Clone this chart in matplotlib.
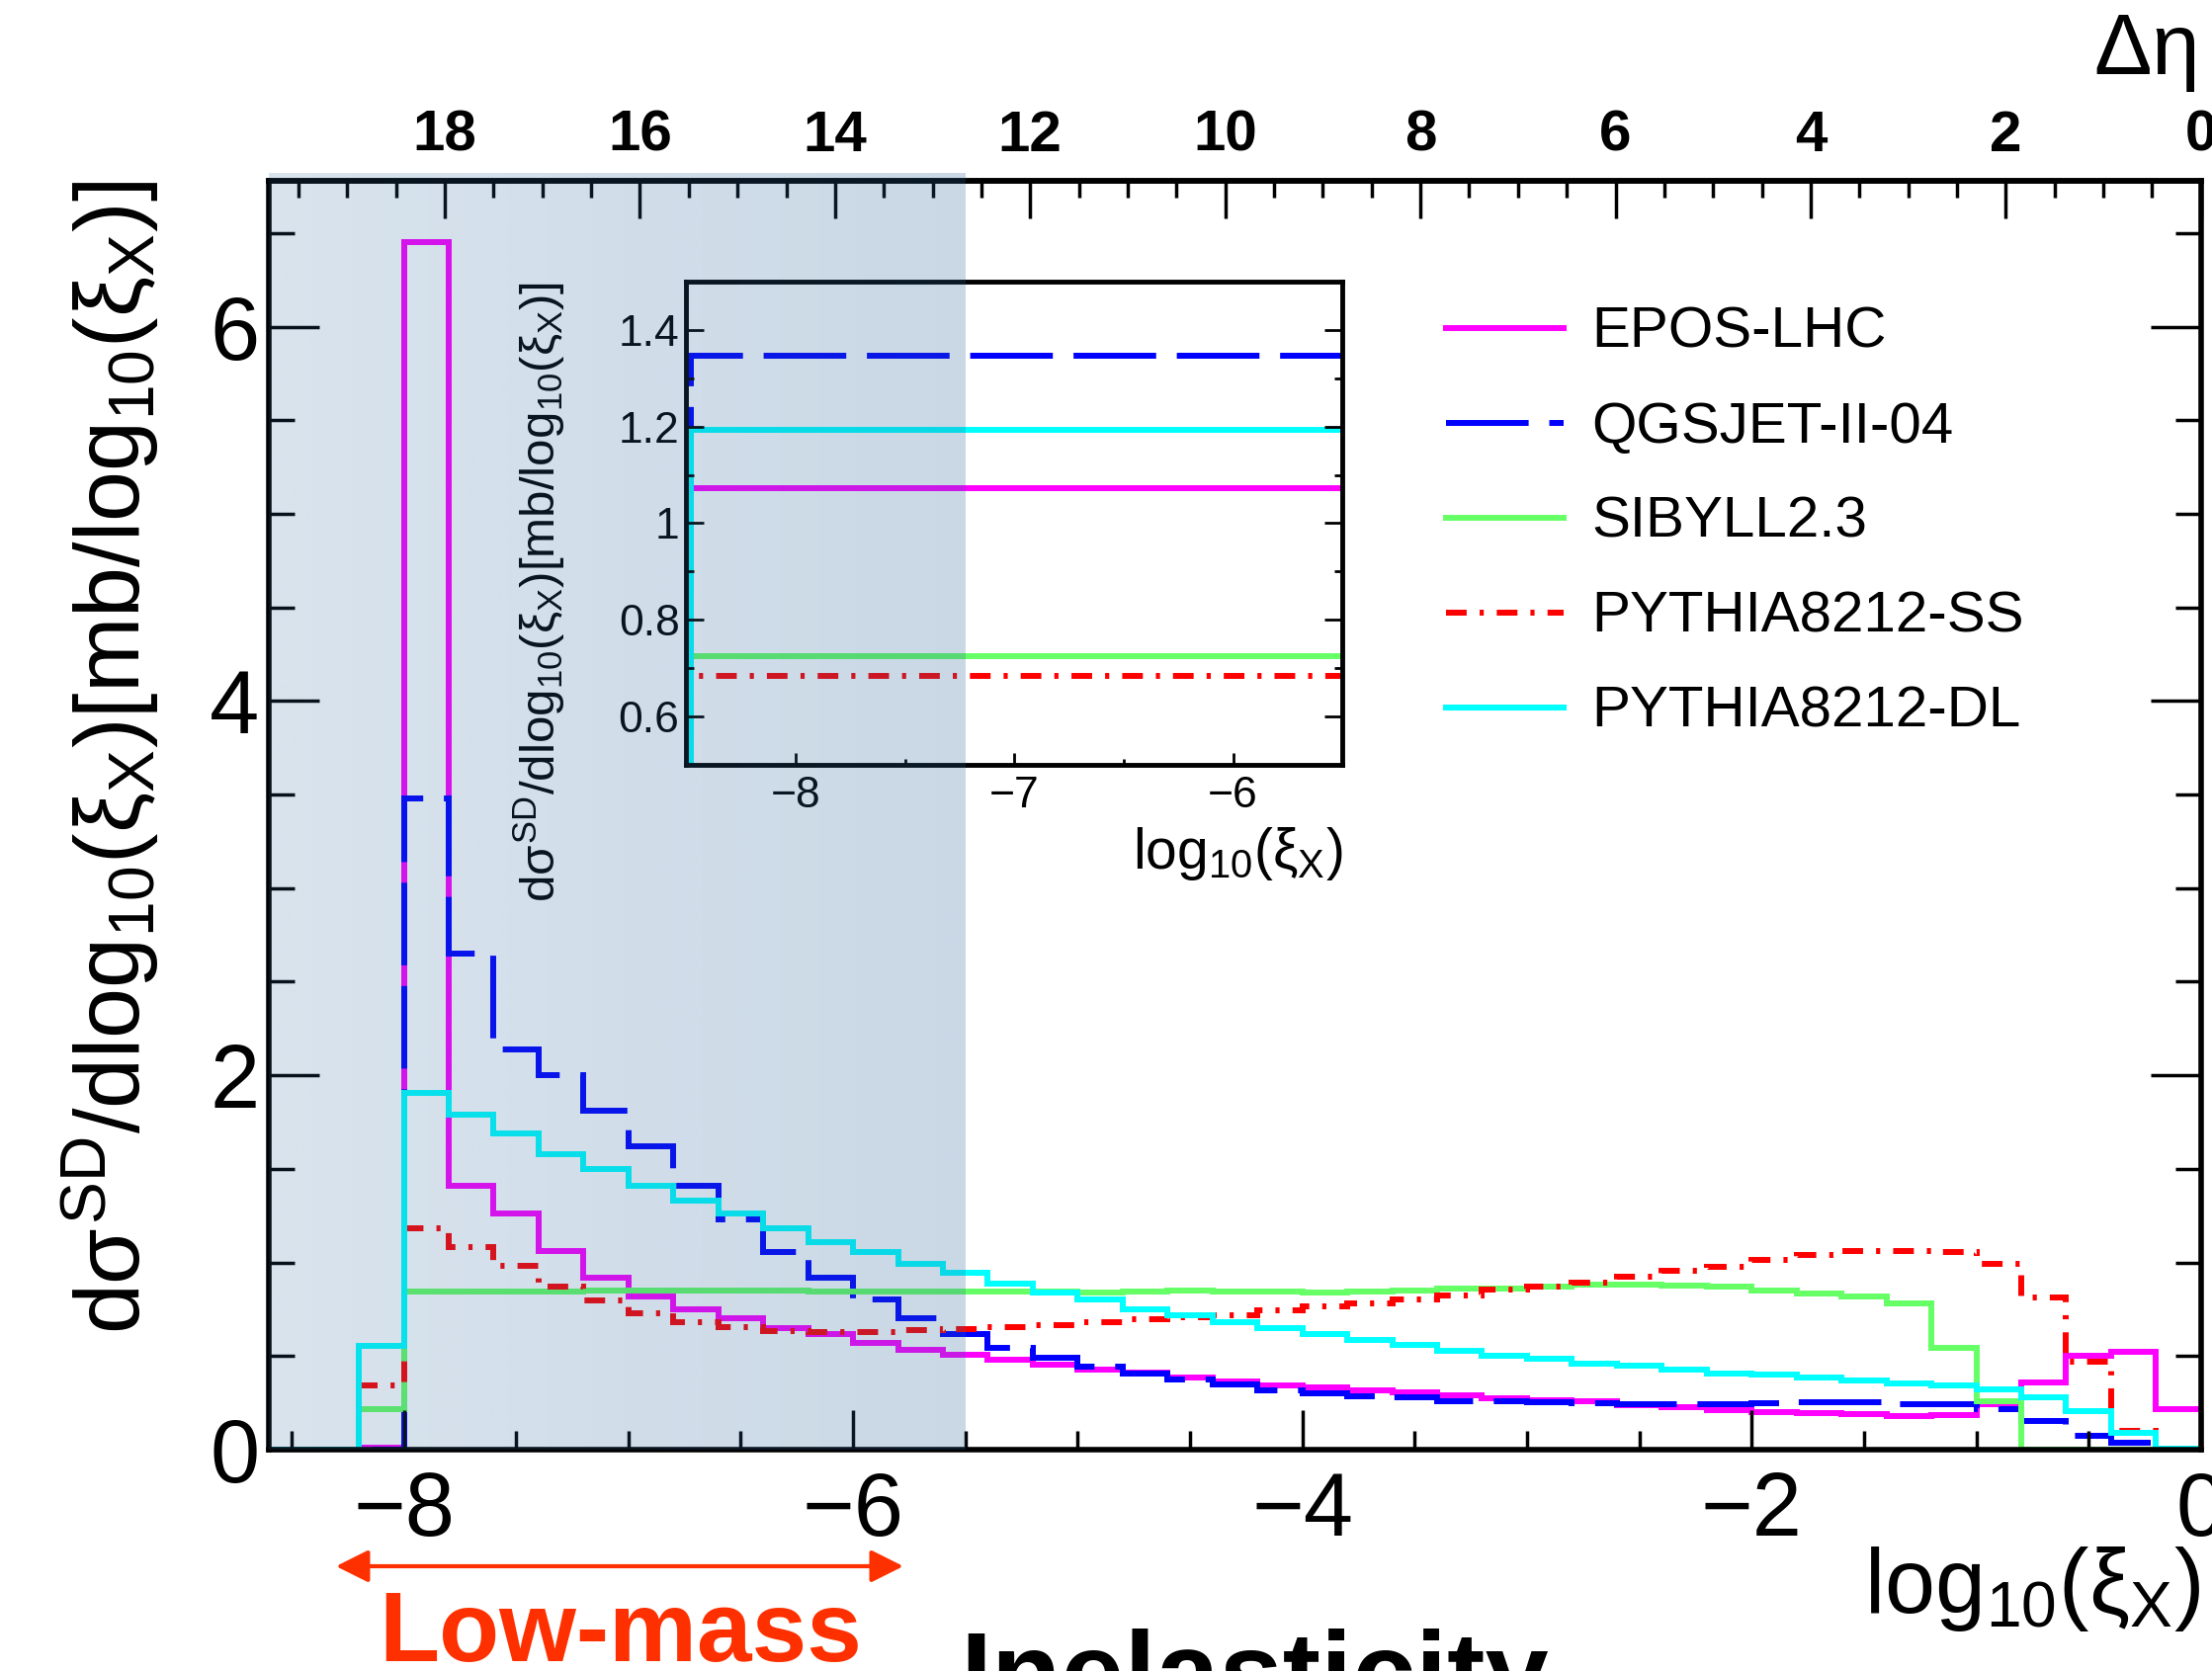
import numpy as np
import matplotlib
matplotlib.use("Agg")
import matplotlib.pyplot as plt
from matplotlib.ticker import MultipleLocator, FuncFormatter

plt.rcParams['font.family'] = ['Liberation Sans', 'DejaVu Sans']
plt.rcParams['mathtext.fontset'] = 'custom'
plt.rcParams['mathtext.rm'] = 'Liberation Sans'
plt.rcParams['mathtext.it'] = 'Liberation Sans'
plt.rcParams['mathtext.bf'] = 'Liberation Sans:bold'

# bin edges of the log10(xi_X) histograms (width 0.2)
edges = np.linspace(-8.6, 0.0, 44)

models = ['EPOS-LHC', 'QGSJET-II-04', 'SIBYLL2.3', 'PYTHIA8212-SS', 'PYTHIA8212-DL']
colors = ['#ff00ff', '#0000ff', '#66ff66', '#ff0000', '#00ffff']

epos = [0, 0, 0.01, 6.45, 1.41, 1.26, 1.06, 0.92, 0.82, 0.75, 0.70, 0.65, 0.616, 0.572,
        0.533, 0.505, 0.48, 0.454, 0.426, 0.41, 0.384, 0.366, 0.345, 0.335, 0.317, 0.305,
        0.29, 0.275, 0.264, 0.257, 0.236, 0.229, 0.21, 0.20, 0.194, 0.188, 0.18, 0.185,
        0.24, 0.36, 0.503, 0.524, 0.215]
qgsjet = [0, 0, 0, 3.48, 2.65, 2.14, 2.00, 1.81, 1.62, 1.41, 1.23, 1.056, 0.92, 0.80,
          0.70, 0.62, 0.546, 0.493, 0.445, 0.405, 0.375, 0.347, 0.317, 0.30, 0.285, 0.28,
          0.26, 0.26, 0.252, 0.246, 0.243, 0.243, 0.243, 0.25, 0.252, 0.252, 0.243, 0.24,
          0.215, 0.155, 0.075, 0.038, 0.0]
sibyll = [0, 0, 0.215, 0.845, 0.845, 0.843, 0.845, 0.85, 0.848, 0.85, 0.85, 0.848, 0.845,
          0.845, 0.843, 0.843, 0.845, 0.845, 0.84, 0.845, 0.85, 0.845, 0.845, 0.84, 0.845,
          0.85, 0.86, 0.86, 0.87, 0.88, 0.88, 0.877, 0.87, 0.852, 0.833, 0.82, 0.78, 0.546,
          0.26, 0, 0, 0, 0]
pythia_ss = [0, 0, 0.343, 1.18, 1.08, 0.98, 0.87, 0.795, 0.73, 0.68, 0.655, 0.634, 0.627,
             0.63, 0.637, 0.643, 0.657, 0.665, 0.683, 0.695, 0.708, 0.72, 0.745, 0.766,
             0.783, 0.80, 0.824, 0.854, 0.87, 0.894, 0.924, 0.956, 0.977, 1.012, 1.04, 1.06,
             1.06, 1.055, 0.99, 0.815, 0.47, 0.10, 0]
pythia_dl = [0, 0, 0.555, 1.905, 1.79, 1.69, 1.576, 1.50, 1.41, 1.33, 1.26, 1.18, 1.11,
             1.056, 0.99, 0.945, 0.886, 0.84, 0.80, 0.75, 0.72, 0.68, 0.65, 0.616, 0.586,
             0.56, 0.528, 0.50, 0.488, 0.46, 0.447, 0.428, 0.407, 0.40, 0.384, 0.368, 0.352,
             0.345, 0.324, 0.28, 0.207, 0.091, 0.005]
series = [epos, qgsjet, sibyll, pythia_ss, pythia_dl]

# inset: integrated low-mass values
inset_edges = [-8.48, -5.4]
inset_vals = [1.072, 1.346, 0.724, 0.684, 1.194]

styles = ['-', (0, (14, 3.5)), '-', (0, (3.5, 2.2, 0.7, 2.2)), '-']
LW = 4.3

fig = plt.figure(figsize=(22.38, 16.91), dpi=100)
ax = fig.add_axes([0.1216, 0.1325, 0.8734, 0.7593])

handles = []
for vals, c, ls, name in zip(series, colors, styles, models):
    h = ax.stairs(vals, edges, color=c, lw=LW, linestyle=ls, baseline=None, label=name)
    handles.append(h)

ax.set_xlim(-8.6, 0)
ax.set_ylim(0, 6.78)
ax.xaxis.set_major_locator(MultipleLocator(2))
ax.xaxis.set_minor_locator(MultipleLocator(0.5))
ax.yaxis.set_major_locator(MultipleLocator(2))
ax.yaxis.set_minor_locator(MultipleLocator(0.5))
ax.tick_params(which='both', direction='in', top=False, right=True, labelsize=65)
ax.tick_params(axis='y', which='major', length=37, width=2.5, pad=7)
ax.tick_params(axis='y', which='minor', length=19, width=2.5)
ax.tick_params(axis='x', which='major', length=29, width=2.5, pad=15)
ax.tick_params(axis='x', which='minor', length=14, width=2.5)
for s in ax.spines.values():
    s.set_linewidth(4)

ax.set_ylabel(r'd$\sigma^{SD}$/dlog$_{10}$($\xi_{X}$)[mb/log$_{10}$($\xi_{X}$)]',
              fontsize=66, loc='top')
ax.yaxis.set_label_coords(-0.056, 1.0)
ax.set_xlabel(r'log$_{10}$($\xi_{X}$)', fontsize=66, loc='right')
ax.xaxis.set_label_coords(1.0, -0.075)

# top axis: rapidity gap
ln10 = np.log(10)
sec = ax.secondary_xaxis('top', functions=(lambda x: -x * ln10, lambda d: -d / ln10))
sec.xaxis.set_major_locator(MultipleLocator(2))
sec.xaxis.set_minor_locator(MultipleLocator(0.5))
sec.tick_params(which='both', direction='in', labelsize=42, pad=13)
sec.tick_params(which='major', length=27, width=2.5)
sec.tick_params(which='minor', length=12, width=2.5)
for lab in sec.get_xticklabels():
    lab.set_fontweight('bold')
sec.spines['top'].set_linewidth(4)
fig.text(0.9465, 0.9556, r'$\Delta\eta$', fontsize=63, ha='left', va='baseline')

leg = ax.legend(handles=handles, loc='upper left', bbox_to_anchor=(0.6537, 0.8167),
                bbox_transform=fig.transFigure, frameon=False, fontsize=42,
                handlelength=2.04, handletextpad=0.48, labelspacing=0.72,
                borderpad=0, borderaxespad=0)

# inset
ins = fig.add_axes([0.3103, 0.5423, 0.2966, 0.2892])
for v, c, ls in zip(inset_vals, colors, styles):
    ins.stairs([v], inset_edges, color=c, lw=LW, linestyle=ls, baseline=0)
ins.set_xlim(-8.5, -5.5)
ins.set_ylim(0.5, 1.5)
ins.xaxis.set_major_locator(MultipleLocator(1))
ins.xaxis.set_minor_locator(MultipleLocator(0.5))
ins.yaxis.set_major_locator(MultipleLocator(0.2))
ins.yaxis.set_minor_locator(MultipleLocator(0.1))
ins.yaxis.set_major_formatter(FuncFormatter(lambda v, p: f'{v:g}'))
ins.tick_params(which='both', direction='in', top=False, right=True, labelsize=32, width=2)
ins.tick_params(axis='y', which='major', length=13, pad=5)
ins.tick_params(axis='y', which='minor', length=6)
ins.tick_params(axis='x', which='major', length=9, pad=8)
ins.tick_params(axis='x', which='minor', length=4)
for s in ins.spines.values():
    s.set_linewidth(3.5)
ins.set_ylabel(r'd$\sigma^{SD}$/dlog$_{10}$($\xi_{X}$)[mb/log$_{10}$($\xi_{X}$)]',
               fontsize=35.5, loc='top')
ins.yaxis.set_label_coords(-0.182, 1.0)
ins.set_xlabel(r'log$_{10}$($\xi_{X}$)', fontsize=41, loc='right')
ins.xaxis.set_label_coords(1.0, -0.125)

# shaded low-mass band drawn on top of everything
ov = fig.add_axes(ax.get_position().bounds)
ov.axis('off')
shade = np.zeros((1, 256, 4))
shade[..., 0] = 41 / 255
shade[..., 1] = 100 / 255
shade[..., 2] = 155 / 255
shade[..., 3] = np.linspace(0.18, 0.25, 256)
ov.imshow(shade, extent=(-8.6, -5.5, 0, 6.82), aspect='auto', interpolation='bilinear',
          clip_on=False, zorder=5)
ov.set_xlim(ax.get_xlim())
ov.set_ylim(ax.get_ylim())

# annotations below the axis
ax.annotate('', xy=(0.1519, 0.0627), xytext=(0.4084, 0.0627), xycoords='figure fraction',
            textcoords='figure fraction',
            arrowprops=dict(arrowstyle='<|-|>,head_length=0.5,head_width=0.25',
                            color='#ff3000', lw=3, mutation_scale=40, shrinkA=0, shrinkB=0))
fig.text(0.2806, 0.0059, 'Low-mass', color='#ff3000', fontsize=72, fontweight='bold',
         ha='center', va='baseline')
fig.text(0.4339, -0.0242, 'Inelasticity', color='black', fontsize=83, fontweight='bold',
         ha='left', va='baseline')

fig.savefig('out.png', dpi=100)
